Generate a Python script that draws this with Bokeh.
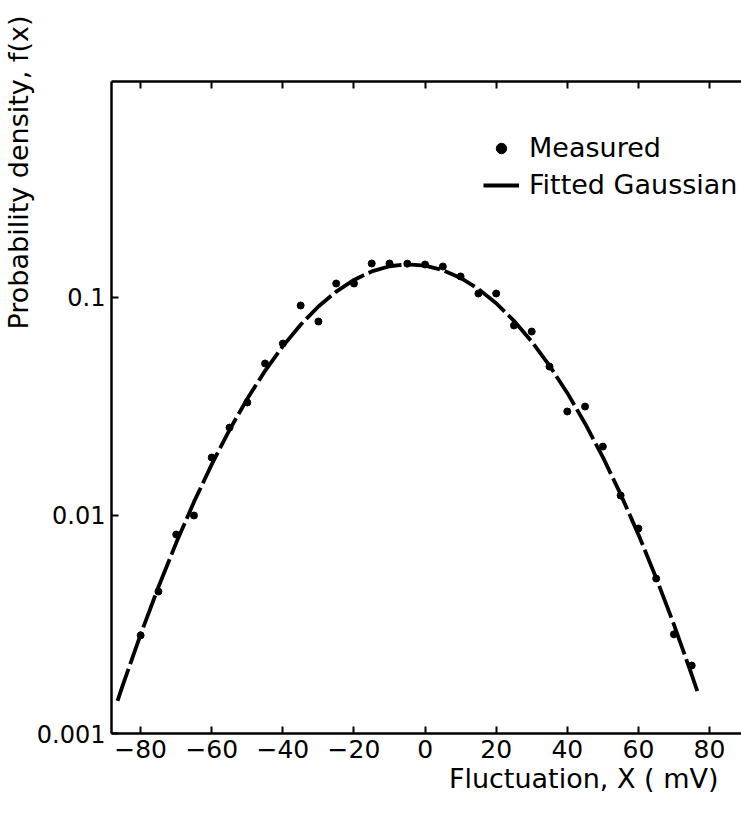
from bokeh.plotting import figure
from bokeh.models import FixedTicker, LinearAxis, Legend, LegendItem, Range1d, Title
from bokeh.embed import file_html
from bokeh.resources import INLINE

# Measured probability density
measured_x = [-80, -75, -70, -65, -60, -55, -50, -45, -40, -35, -30, -25, -20, -15, -10, -5,
              0, 5, 10, 15, 20, 25, 30, 35, 40, 45, 50, 55, 60, 65, 70, 75]
measured_y = [0.00282, 0.00448, 0.00818, 0.0100, 0.01845, 0.0253, 0.0330, 0.0498, 0.0615, 0.0919,
              0.0776, 0.1159, 0.1159, 0.1432, 0.1432, 0.1430, 0.1417, 0.1387, 0.1249, 0.1043,
              0.1043, 0.0744, 0.0698, 0.0482, 0.0300, 0.0316, 0.0207, 0.01235, 0.00872, 0.00514,
              0.00285, 0.00205]

# Fitted Gaussian curve
fit_x = [-86.5, -85, -80, -75, -70, -65, -60, -55, -50, -45, -40, -35, -30, -25, -20, -15, -10, -5,
         0, 5, 10, 15, 20, 25, 30, 35, 40, 45, 50, 55, 60, 65, 70, 75, 77]
fit_y = [0.00141, 0.00167, 0.00285, 0.00470, 0.00749, 0.01154, 0.01717, 0.02471, 0.03432, 0.04611,
         0.05983, 0.0750, 0.0909, 0.1064, 0.1204, 0.1317, 0.1391, 0.1420, 0.1400, 0.1335, 0.1229,
         0.1094, 0.0941, 0.0782, 0.0628, 0.0487, 0.0365, 0.02644, 0.01852, 0.01252, 0.00819,
         0.00517, 0.00316, 0.00186, 0.00149]

x_ticks = [-80, -60, -40, -20, 0, 20, 40, 60, 80]
x_tick_labels = ["\u221280", "\u221260", "\u221240", "\u221220", "0", "20", "40", "60", "80"]
y_ticks = [0.001, 0.01, 0.1]
y_tick_labels = ["0.001", "0.01", "0.1"]

x_title = "Fluctuation, X ( mV)"
y_title = "Probability density, f(x)"
legend_labels = ["Measured", "Fitted Gaussian"]

FONT = "DejaVu Sans"

p = figure(width=741, height=817, y_axis_type="log",
           x_range=Range1d(-88.2, 89.0), y_range=Range1d(0.001, 0.979),
           output_backend="svg", toolbar_location=None,
           min_border_left=106, min_border_right=0, min_border_top=81, min_border_bottom=84)
p.xgrid.visible = False
p.ygrid.visible = False
p.outline_line_color = None
p.background_fill_color = "white"
p.border_fill_color = "white"

def style_axis(ax):
    ax.axis_line_width = 2.5
    ax.axis_line_color = "black"
    ax.major_tick_in = 7
    ax.major_tick_out = 0
    ax.major_tick_line_width = 2
    ax.major_tick_line_color = "black"
    ax.minor_tick_in = 0
    ax.minor_tick_out = 0
    ax.major_label_text_font = FONT
    ax.major_label_text_font_size = "24px"
    ax.major_label_text_color = "black"

xa = p.xaxis[0]
xa.ticker = FixedTicker(ticks=x_ticks)
xa.major_label_overrides = dict(zip(x_ticks, x_tick_labels))
xa.major_label_standoff = 6
style_axis(xa)
xa.major_label_text_font_size = "25px"

ya = p.yaxis[0]
ya.ticker = FixedTicker(ticks=y_ticks)
ya.major_label_overrides = dict(zip(y_ticks, y_tick_labels))
ya.major_label_standoff = 6
style_axis(ya)

top = LinearAxis(ticker=FixedTicker(ticks=x_ticks))
style_axis(top)
top.major_label_overrides = {t: "" for t in x_ticks}
p.add_layout(top, "above")

line = p.line(fit_x, fit_y, line_width=3.8, line_color="black", line_dash="34 5")
proxy = p.line(fit_x[:1], fit_y[:1], line_width=3.8, line_color="black")
pts = p.scatter(measured_x, measured_y, size=7, fill_color="black", line_color="black")

legend = Legend(items=[LegendItem(label=legend_labels[0], renderers=[pts]),
                       LegendItem(label=legend_labels[1], renderers=[proxy])],
                location=(372, 533), border_line_color=None, background_fill_alpha=0,
                label_text_font=FONT, label_text_font_size="27px", label_text_color="black",
                glyph_width=36, glyph_height=26, label_standoff=10, spacing=6,
                padding=0, margin=0)
p.add_layout(legend)

p.add_layout(Title(text=y_title, align="right", offset=-66, standoff=0,
                   text_font=FONT, text_font_size="27px", text_font_style="normal",
                   text_color="black"), "left")
p.add_layout(Title(text=x_title, align="right", offset=23, standoff=0,
                   text_font=FONT, text_font_size="27px", text_font_style="normal",
                   text_color="black"), "below")

open("out.html", "w").write(file_html(p, INLINE))
